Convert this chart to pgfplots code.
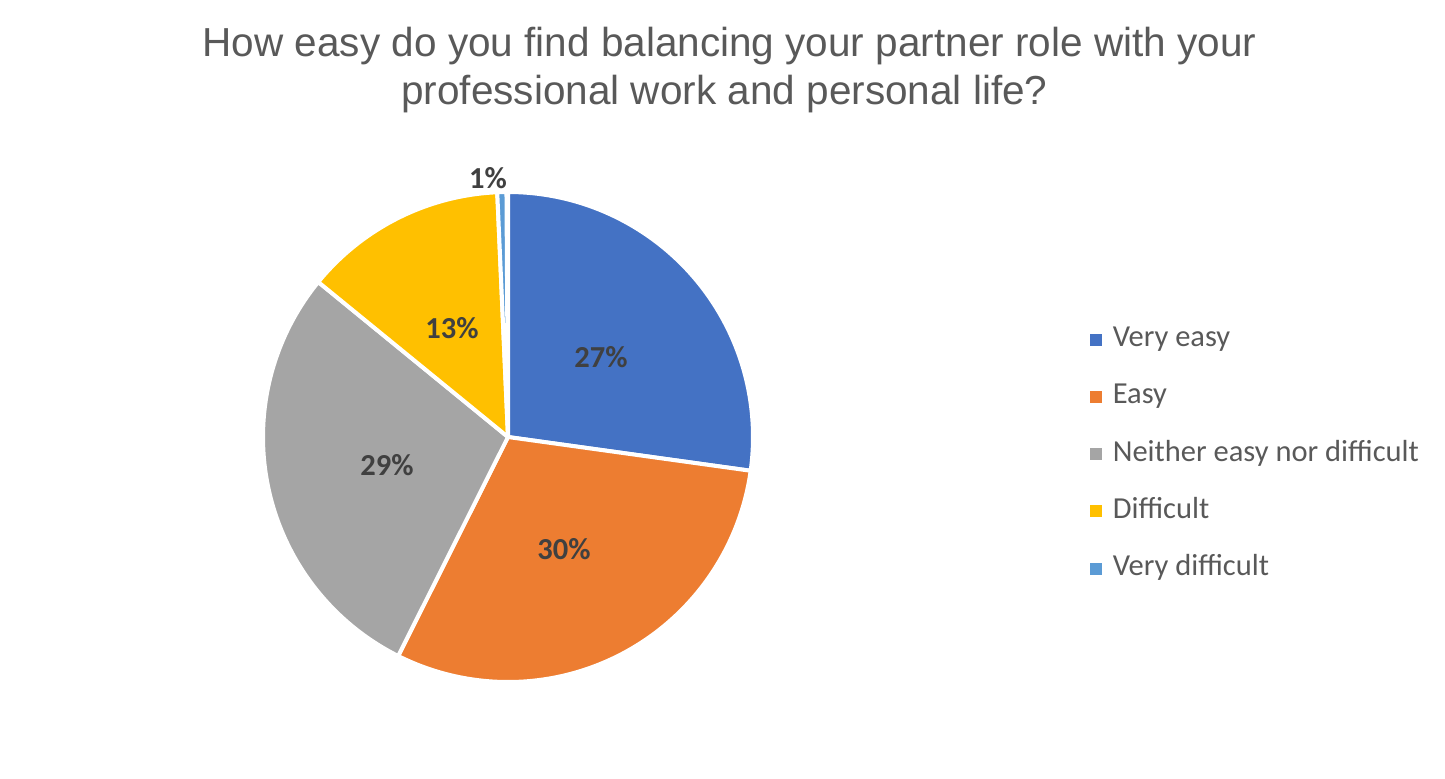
\documentclass[border=0pt]{standalone}
\usepackage{pgfplots}
\pgfplotsset{compat=1.18}
\usepackage{pgfplotstable}
\usepackage{fontspec}
\setmainfont{Carlito}
\newfontfamily\titlefont{Liberation Sans}
\definecolor{cA}{HTML}{4472C4}
\definecolor{cB}{HTML}{ED7D31}
\definecolor{cC}{HTML}{A5A5A5}
\definecolor{cD}{HTML}{FFC000}
\definecolor{cE}{HTML}{5B9BD5}
\definecolor{titlegray}{HTML}{595959}
\definecolor{labelgray}{HTML}{404040}

% category, share (%), displayed label, label position (px)
\pgfplotstableread{
idx value pct lx ly
0 27.2 27 601 357
1 30.2 30 564 549
2 28.5 29 387 465
3 13.4 13 452 328
4 0.6 1 488 178
}\piedata

\pgfplotstablegetelem{0}{value}\of\piedata \let\vA\pgfplotsretval
\pgfplotstablegetelem{1}{value}\of\piedata \let\vB\pgfplotsretval
\pgfplotstablegetelem{2}{value}\of\piedata \let\vC\pgfplotsretval
\pgfplotstablegetelem{3}{value}\of\piedata \let\vD\pgfplotsretval
\pgfplotstablegetelem{4}{value}\of\piedata \let\vE\pgfplotsretval
\pgfmathsetmacro\sA{90}
\pgfmathsetmacro\eA{\sA-3.6*\vA}
\pgfmathsetmacro\eB{\eA-3.6*\vB}
\pgfmathsetmacro\eC{\eB-3.6*\vC}
\pgfmathsetmacro\eD{\eC-3.6*\vD}
\pgfmathsetmacro\eE{\eD-3.6*\vE}

\def\cx{508}\def\cy{437}\def\R{245}
\newcommand\piewedge[3]{%
  \fill[#1, draw=white, line width=2pt, line join=round]
    (axis cs:\cx,\cy) -- (axis cs:{\cx+\R*cos(#2)},{\cy-\R*sin(#2)})
    arc[start angle=#2, end angle=#3, radius=122.5pt] -- cycle;}

\begin{document}
\begin{tikzpicture}
\begin{axis}[
  scale only axis, width=722.5pt, height=389pt,
  xmin=0, xmax=1445, ymin=0, ymax=778, y dir=reverse,
  hide axis, clip=false,
  legend style={draw=none, fill=none, at={(axis cs:1090,326)}, anchor=north west,
    font=\fontsize{15.25}{18}\selectfont, text=titlegray, row sep=15.65pt,
    inner sep=0pt, nodes={inner sep=0pt, text height=10pt, text depth=3pt}},
  legend cell align=left,
  legend image code/.code={\fill[#1] (0pt,-2.75pt) rectangle (5.5pt,2.75pt); \path[draw=none,fill=none] (0pt,-2.75pt) rectangle (11pt,2.75pt);},
]
\piewedge{cA}{\sA}{\eA}
\piewedge{cB}{\eA}{\eB}
\piewedge{cC}{\eB}{\eC}
\piewedge{cD}{\eC}{\eD}
\piewedge{cE}{\eD}{\eE}
\addplot[draw=none, mark=none, forget plot,
  nodes near coords={\pgfmathprintnumber[fixed,precision=0,assume math mode=true]{\pgfplotspointmeta}\%},
  nodes near coords align=center, point meta=explicit,
  every node near coord/.append style={anchor=center, font=\fontsize{15.25}{18}\selectfont\bfseries, text=labelgray}]
  table[x=lx, y=ly, meta=pct] {\piedata};
\addlegendimage{cA}\addlegendentry{Very easy}
\addlegendimage{cB}\addlegendentry{Easy}
\addlegendimage{cC}\addlegendentry{Neither easy nor difficult}
\addlegendimage{cD}\addlegendentry{Difficult}
\addlegendimage{cE}\addlegendentry{Very difficult}
\node[anchor=base, text=titlegray, font=\titlefont\fontsize{20.25}{24}\selectfont, inner sep=0pt]
  at (axis cs:729.5,56) {How easy do you find balancing your partner role with your};
\node[anchor=base, text=titlegray, font=\titlefont\fontsize{20.25}{24}\selectfont, inner sep=0pt]
  at (axis cs:724.5,104) {professional work and personal life?};
\end{axis}
\pgfresetboundingbox
\path (current axis.south west) rectangle (current axis.north east);
\end{tikzpicture}
\end{document}
